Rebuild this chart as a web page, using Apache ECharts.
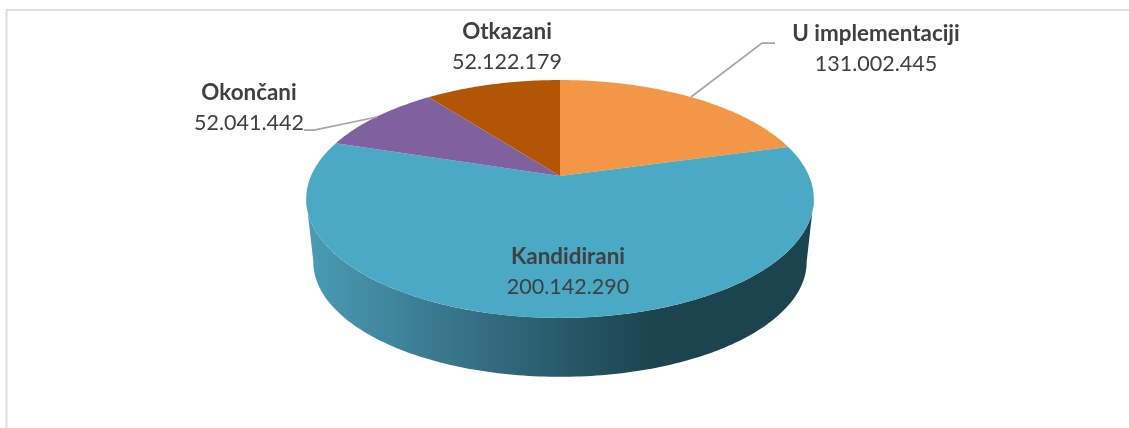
<!DOCTYPE html>
<html>
<head>
<meta charset="utf-8">
<style>
  html, body { margin: 0; padding: 0; background: #fff; }
  #chart { width: 1129px; height: 428px; }
</style>
<script src="https://cdn.jsdelivr.net/npm/echarts@6/dist/echarts.min.js"></script>
</head>
<body>
<div id="chart"></div>
<script>
const categories = ["U implementaciji", "Kandidirani", "Okončani", "Otkazani"];
// printed on the labels
const valueLabels = ["131.002.445", "200.142.290", "52.041.442", "52.122.179"];
// slice sizes as drawn in the picture (%), they do not follow the printed numbers
const sliceShares = [20.7, 59.2, 9.7, 10.4];
const sliceColors = ["#F39646", "#4AA9C4", "#7F619F", "#B25504"];

const labelPos = [[876, 49], [568, 272], [249, 108], [507, 47]];
const leaderLines = [
  [[691, 97], [762, 43], [775, 43]],
  null,
  [[377, 117], [314, 130], [304, 130]],
  null,
];

// perspective of the disc: apex of the slices and projection of the top face
const apex = [560, 176];
const scaleX = 249;
const scaleY = 114.5;
const tilt = 0.193;
const topCenterY = 199;
const sideCenterY = 262;
const sideScaleX = 0.972;
const sideScaleY = 0.966;
const frontFrom = 101;
const frontTo = 259;

const total = sliceShares.reduce((a, b) => a + b, 0);

function rimPoint(deg) {
  const a = (deg * Math.PI) / 180;
  const w = 1 + tilt * Math.cos(a);
  return [apex[0] + (scaleX * Math.sin(a)) / w, apex[1] - (scaleY * Math.cos(a)) / w];
}

function basePoint(deg) {
  const p = rimPoint(deg);
  return [
    apex[0] + (p[0] - apex[0]) * sideScaleX,
    sideCenterY + (p[1] - topCenterY) * sideScaleY,
  ];
}

function sampleRim(from, to, fn) {
  const pts = [];
  const steps = Math.max(2, Math.ceil(Math.abs(to - from)));
  for (let i = 0; i <= steps; i++) pts.push(fn(from + ((to - from) * i) / steps));
  return pts;
}

function renderSlice(params, api) {
  const i = params.dataIndex;
  let before = 0;
  for (let j = 0; j < i; j++) before += sliceShares[j];
  const start = (before / total) * 360;
  const end = ((before + api.value(0)) / total) * 360;

  const children = [];
  const wallFrom = Math.max(start, frontFrom);
  const wallTo = Math.min(end, frontTo);
  if (wallTo > wallFrom) {
    children.push({
      type: "polygon",
      shape: {
        points: sampleRim(wallFrom, wallTo, rimPoint).concat(
          sampleRim(wallTo, wallFrom, basePoint)
        ),
      },
      style: {
        fill: new echarts.graphic.LinearGradient(0, 0, 1, 0, [
          { offset: 0, color: "#4A9CB5" },
          { offset: 0.32, color: "#357186" },
          { offset: 0.68, color: "#1C444F" },
          { offset: 1, color: "#1C444F" },
        ]),
      },
    });
  }
  children.push({
    type: "polygon",
    shape: { points: [apex].concat(sampleRim(start, end, rimPoint)) },
    style: { fill: sliceColors[i] },
  });
  return { type: "group", children };
}

function renderLabel(params) {
  const i = params.dataIndex;
  const children = [];
  if (leaderLines[i]) {
    children.push({
      type: "polyline",
      shape: { points: leaderLines[i] },
      style: { stroke: "#A6A6A6", lineWidth: 1.75, fill: null },
    });
  }
  children.push({
    type: "text",
    x: labelPos[i][0],
    y: labelPos[i][1],
    style: {
      text: "{name|" + categories[i] + "}\n{val|" + valueLabels[i] + "}",
      align: "center",
      verticalAlign: "middle",
      rich: {
        name: { font: "bold 22.4px Lato", fill: "#404040", lineHeight: 30, align: "center" },
        val: { font: "21.5px Lato", fill: "#404040", lineHeight: 30, align: "center" },
      },
    },
  });
  return { type: "group", children };
}

const chart = echarts.init(document.getElementById("chart"));
chart.setOption({
  animation: false,
  backgroundColor: "#fff",
  graphic: [
    {
      type: "polyline",
      shape: { points: [[6.5, 428], [6.5, 10], [1129, 10]] },
      style: { stroke: "#DEDEDE", lineWidth: 2, fill: null },
    },
  ],
  series: [
    {
      type: "custom",
      coordinateSystem: "none",
      renderItem: renderSlice,
      data: sliceShares,
      z: 2,
    },
    {
      type: "custom",
      coordinateSystem: "none",
      renderItem: renderLabel,
      data: categories.map((c, i) => [i]),
      z: 3,
    },
  ],
});
</script>
</body>
</html>
